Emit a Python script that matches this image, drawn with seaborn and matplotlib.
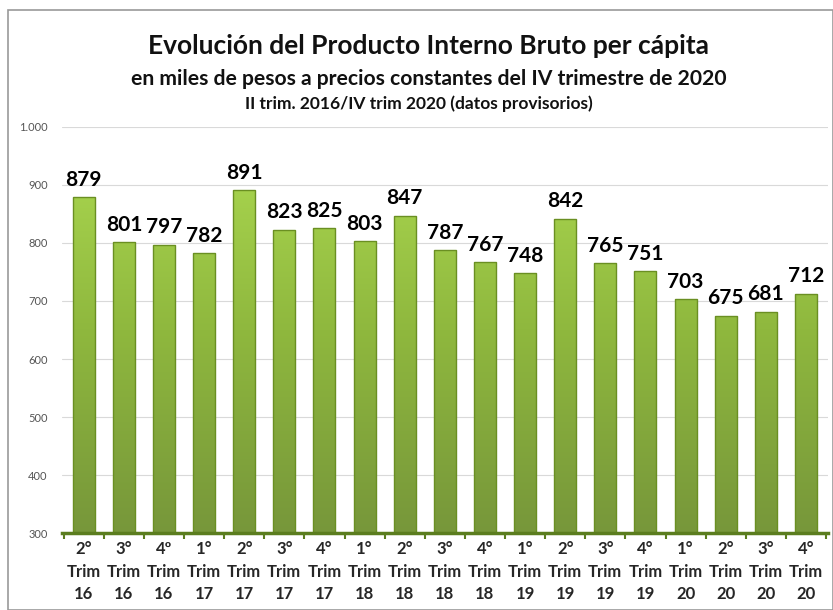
import matplotlib
matplotlib.use("Agg")
import matplotlib.pyplot as plt
import seaborn as sns
import pandas as pd
import numpy as np
from matplotlib.ticker import FuncFormatter, FixedLocator
from matplotlib.colors import LinearSegmentedColormap

quarters = ["2°", "3°", "4º", "1°", "2°", "3°", "4°", "1°", "2°", "3°", "4°",
            "1°", "2°", "3°", "4°", "1°", "2°", "3°", "4°"]
years = ["16", "16", "16", "17", "17", "17", "17", "18", "18", "18", "18",
         "19", "19", "19", "19", "20", "20", "20", "20"]
values = [879, 801, 797, 782, 891, 823, 825, 803, 847, 787, 767,
          748, 842, 765, 751, 703, 675, 681, 712]
labels = [f"{q}\nTrim\n{y}" for q, y in zip(quarters, years)]

df = pd.DataFrame({"periodo": labels, "pib": values})

sns.set_theme(style="white")
plt.rcParams['font.family'] = ['Lato', 'DejaVu Sans']

fig = plt.figure(figsize=(8.33, 6.1), dpi=100)
ax = fig.add_axes([0.074, 0.126, 0.92, 0.666])

sns.barplot(data=df, x="periodo", y="pib", color="#94c23c", width=0.55,
            edgecolor="#6a8f22", linewidth=1.0, saturation=1, ax=ax)

ymin, ymax = 300, 1000
ax.set_ylim(ymin, ymax)
ax.set_xlim(-0.55, len(values) - 0.45)

# vertical gradient fill for each bar
cmap = LinearSegmentedColormap.from_list("g", ["#77973a", "#8fb83e", "#aedb52"])
grad = np.linspace(0, 1, 256).reshape(-1, 1)
for p in ax.patches:
    x0, w = p.get_x(), p.get_width()
    im = ax.imshow(grad, cmap=cmap, aspect="auto", origin="lower",
                   extent=(x0, x0 + w, ymin, ymax), zorder=p.get_zorder() + 0.1,
                   vmin=0, vmax=1)
    im.set_clip_path(p)
    p.set_facecolor("none")
    p.set_zorder(p.get_zorder() + 0.2)
ax.set_xlim(-0.55, len(values) - 0.45)
ax.set_ylim(ymin, ymax)
ax.set_aspect("auto")

ax.set_yticks(range(300, 1001, 100))
ax.yaxis.set_major_formatter(FuncFormatter(lambda v, p: f"{int(v):,}".replace(",", ".")))
ax.tick_params(axis="y", labelsize=8, colors="#555555", length=0, pad=10)
ax.tick_params(axis="x", which="major", labelsize=12, length=0, pad=6)
ax.xaxis.set_minor_locator(FixedLocator(np.arange(-0.5, len(values), 1)))
ax.tick_params(axis="x", which="minor", length=4, width=1.5, color="#5b7d1f",
               direction="out", bottom=True)
for t in ax.get_xticklabels():
    t.set_fontweight("bold")
    t.set_linespacing(1.5)
ax.set_xlabel("")
ax.set_ylabel("")
ax.grid(axis="y", color="#d9d9d9", linewidth=0.8)
ax.set_axisbelow(True)
for s in ["top", "right", "left"]:
    ax.spines[s].set_visible(False)
ax.spines["bottom"].set_color("#5b7d1f")
ax.spines["bottom"].set_linewidth(2.5)

for i, v in enumerate(values):
    ax.text(i, v + 13, f"{v}", ha="center", va="bottom", fontsize=15,
            fontweight="bold", color="black")

fig.text(0.515, 0.925, "Evolución del Producto Interno Bruto per cápita",
         ha="center", va="center", fontsize=19, fontweight="bold", color="#111111")
fig.text(0.515, 0.870, "en miles de pesos a precios constantes del IV trimestre de 2020",
         ha="center", va="center", fontsize=15.2, fontweight="bold", color="#111111")
fig.text(0.503, 0.830, "II trim. 2016/IV trim 2020 (datos provisorios)",
         ha="center", va="center", fontsize=12.5, fontweight="bold", color="#111111")

border = plt.Rectangle((0.01, 0.0), 0.99, 0.983, transform=fig.transFigure,
                       fill=False, edgecolor="#999999", linewidth=1.2)
fig.add_artist(border)

fig.savefig("out.png", dpi=100)
